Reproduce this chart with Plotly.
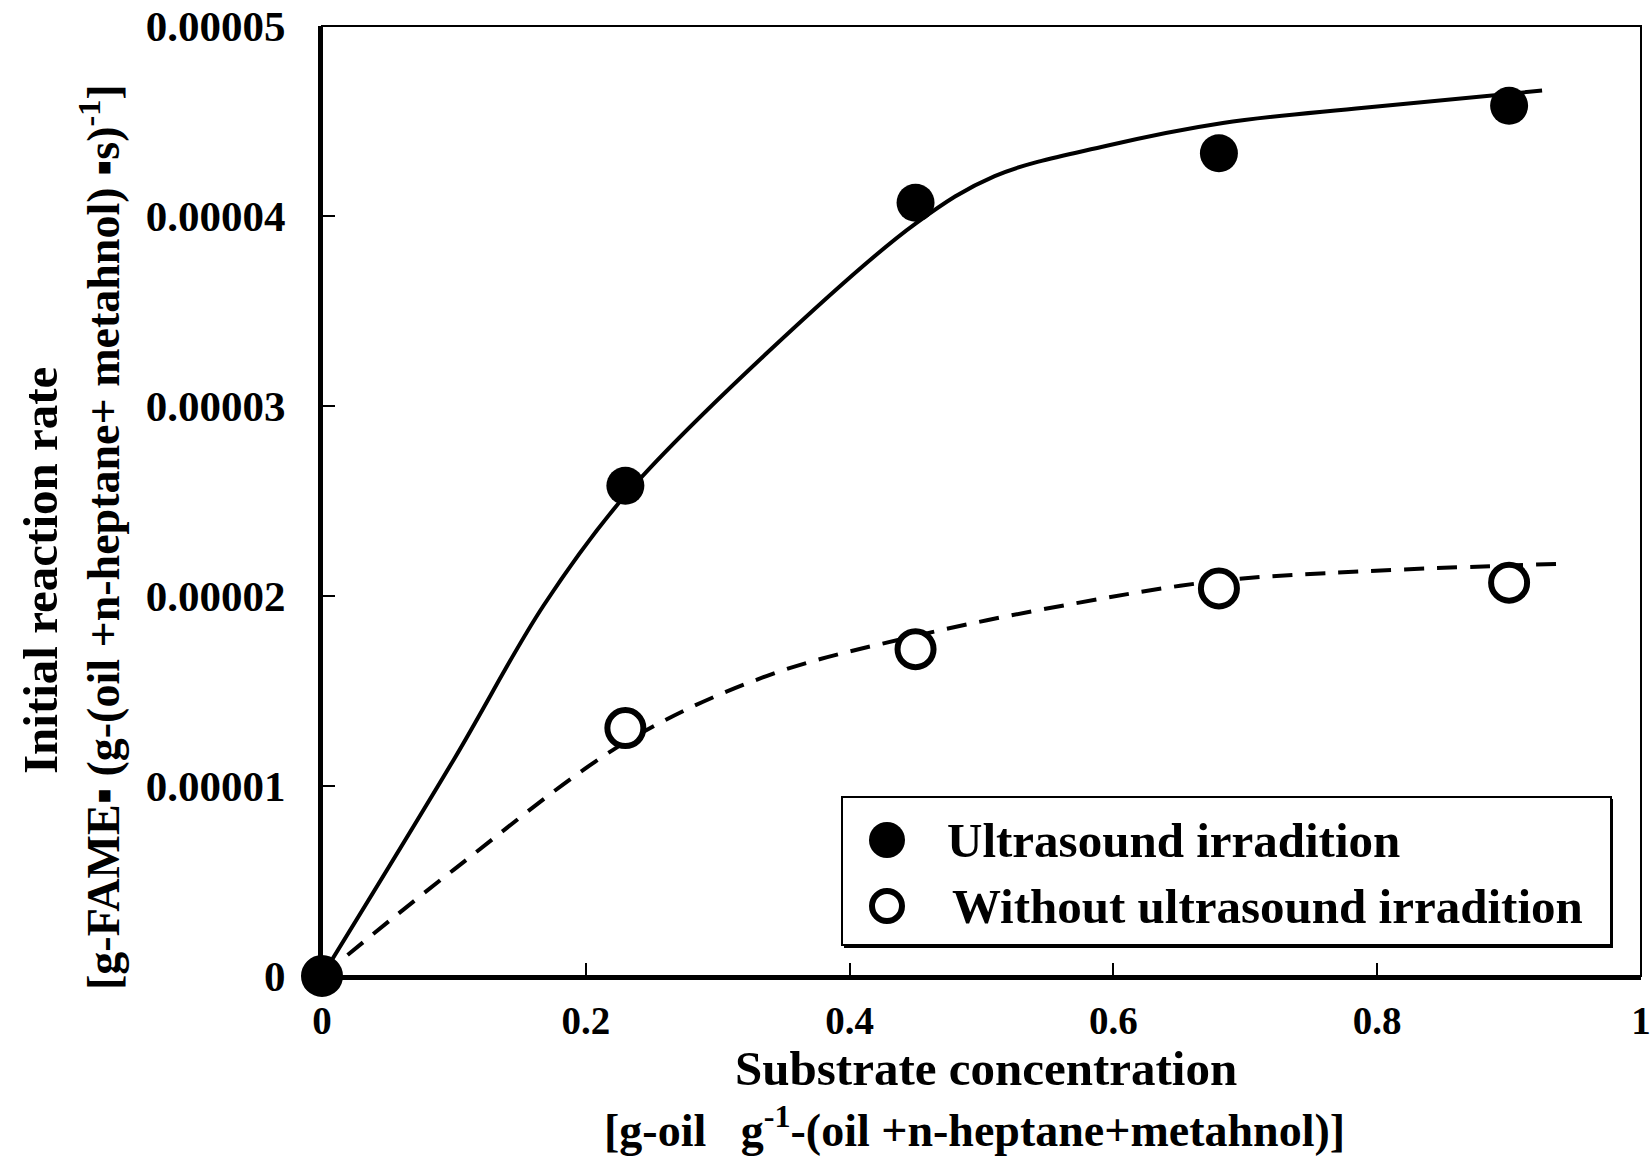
import plotly.graph_objects as go

# ---- data ----
conc = [0, 0.23, 0.45, 0.68, 0.90]
rate_ultra = [0, 2.58e-5, 4.07e-5, 4.33e-5, 4.58e-5]
rate_without = [0, 1.305e-5, 1.72e-5, 2.04e-5, 2.07e-5]

fit_ultra_x = [0, 0.10, 0.168, 0.23, 0.3375, 0.45, 0.51, 0.595, 0.683, 0.79, 0.925]
fit_ultra_y = [0, 1.14e-5, 1.95e-5, 2.53e-5, 3.28e-5, 3.96e-5, 4.21e-5, 4.37e-5, 4.49e-5, 4.57e-5, 4.66e-5]

fit_without_x = [0, 0.10, 0.23, 0.3375, 0.45, 0.57, 0.68, 0.79, 0.942]
fit_without_y = [0, 0.56e-5, 1.23e-5, 1.58e-5, 1.79e-5, 1.96e-5, 2.08e-5, 2.13e-5, 2.17e-5]

x_ticks = [0, 0.2, 0.4, 0.6, 0.8, 1]
x_ticktext = ["0", "0.2", "0.4", "0.6", "0.8", "1"]
y_ticks = [0, 1e-5, 2e-5, 3e-5, 4e-5, 5e-5]
y_ticktext = ["0", "0.00001", "0.00002", "0.00003", "0.00004", "0.00005"]

series_names = ["Ultrasound irradition", "Without ultrasound irradition"]

FONT = "Liberation Serif, Times New Roman, serif"

fig = go.Figure()

fig.add_trace(go.Scatter(x=fit_ultra_x, y=fit_ultra_y, mode="lines",
                         line=dict(color="black", width=4, shape="spline", smoothing=1),
                         showlegend=False, hoverinfo="skip"))
fig.add_trace(go.Scatter(x=fit_without_x, y=fit_without_y, mode="lines",
                         line=dict(color="black", width=4, dash="20px,13px", shape="spline", smoothing=1),
                         showlegend=False, hoverinfo="skip"))

fig.add_trace(go.Scatter(x=conc, y=rate_without, mode="markers", name=series_names[1],
                         marker=dict(symbol="circle", size=36, color="white",
                                     line=dict(color="black", width=6)),
                         cliponaxis=False, showlegend=False))
fig.add_trace(go.Scatter(x=conc, y=rate_ultra, mode="markers", name=series_names[0],
                         marker=dict(symbol="circle", size=38, color="black",
                                     line=dict(color="black", width=0)),
                         cliponaxis=False, showlegend=False))

L, R, T, B = 322, 10, 26, 181
W, H = 1651, 1157
pw = W - L - R
ph = H - T - B

def px(xp):
    return (xp - L) / pw

def py(yp):
    return (H - B - yp) / ph

annotations = [
    dict(text="Initial reaction rate", x=px(40), y=py(571), xref="paper", yref="paper",
         textangle=-90, showarrow=False, xanchor="center", yanchor="middle",
         font=dict(size=49)),
    dict(text="[g-FAME\u25aa (g-(oil +n-heptane+ metahnol) \u25aas)<sup>-1</sup>]",
         x=px(100), y=py(537), xref="paper", yref="paper",
         textangle=-90, showarrow=False, xanchor="center", yanchor="middle",
         font=dict(size=46)),
    dict(text="Substrate concentration", x=px(986), y=py(1068), xref="paper", yref="paper",
         showarrow=False, xanchor="center", yanchor="middle", font=dict(size=49)),
    dict(text="[g-oil\u00a0\u00a0\u00a0g<sup>-1</sup>-(oil +n-heptane+metahnol)]",
         x=px(974), y=py(1127), xref="paper", yref="paper",
         showarrow=False, xanchor="center", yanchor="middle", font=dict(size=46)),
    # legend texts
    dict(text=series_names[0], x=px(945), y=py(840), xref="paper", yref="paper",
         showarrow=False, xanchor="left", yanchor="middle", font=dict(size=49)),
    dict(text=series_names[1], x=px(950), y=py(906), xref="paper", yref="paper",
         showarrow=False, xanchor="left", yanchor="middle", font=dict(size=49)),
]

def rect(x0, y0, x1, y1, **kw):
    return dict(type="rect", xref="paper", yref="paper",
                x0=px(x0), x1=px(x1), y0=py(y1), y1=py(y0), **kw)

def circ(cx, cy, d, **kw):
    r = d / 2
    return dict(type="circle", xref="paper", yref="paper",
                x0=px(cx - r), x1=px(cx + r), y0=py(cy + r), y1=py(cy - r), **kw)

shapes = [
    dict(type="rect", xref="paper", yref="paper", x0=0, x1=1, y0=0, y1=1,
         line=dict(color="black", width=2), layer="below"),
    # legend box with slight shadow
    rect(844, 799, 1613, 948, fillcolor="black", line=dict(width=0), layer="above"),
    rect(842, 797, 1611, 945, fillcolor="white", line=dict(color="black", width=2), layer="above"),
    circ(887, 840, 36, fillcolor="black", line=dict(width=0), layer="above"),
    circ(887, 906, 30, fillcolor="white", line=dict(color="black", width=6), layer="above"),
]

fig.update_layout(
    width=W, height=H,
    margin=dict(l=L, r=R, t=T, b=B, pad=0, autoexpand=False),
    paper_bgcolor="white", plot_bgcolor="white",
    font=dict(family=FONT, size=40, color="black", weight="bold"),
    showlegend=False,
    annotations=annotations,
    shapes=shapes,
)

fig.update_xaxes(range=[0, 1], tickvals=x_ticks, ticktext=x_ticktext, automargin=False,
                 showgrid=False, zeroline=False, showline=True, linecolor="black", linewidth=4,
                 ticks="inside", ticklen=13, tickwidth=2, tickcolor="black",
                 ticklabelstandoff=7, ticklabeloverflow="allow", tickfont=dict(size=39))
fig.update_yaxes(range=[0, 5e-5], tickvals=y_ticks, ticktext=y_ticktext, automargin=False,
                 showgrid=False, zeroline=False, showline=True, linecolor="black", linewidth=4,
                 ticks="inside", ticklen=13, tickwidth=2, tickcolor="black",
                 ticklabelstandoff=24, ticklabeloverflow="allow", tickfont=dict(size=43))

fig.write_html("out.html")
